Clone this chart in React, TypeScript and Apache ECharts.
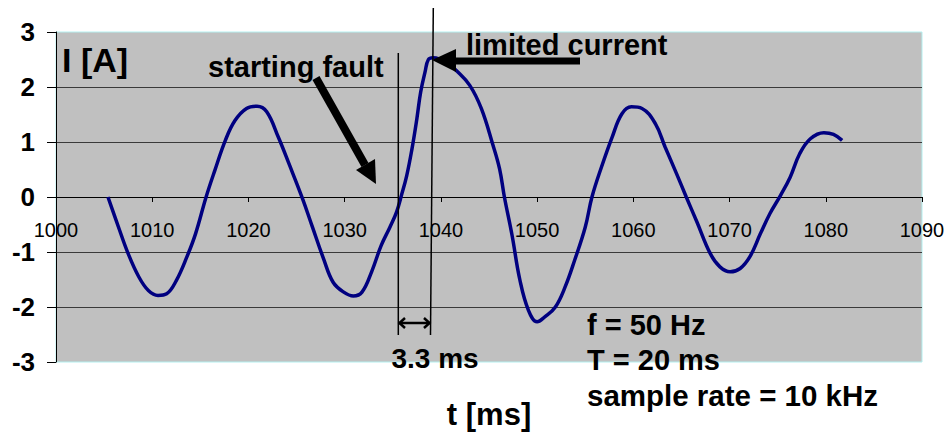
import React, { useEffect, useRef } from "react";
import * as echarts from "echarts";

const timeMs = [
  1005.4, 1006.5, 1007.5, 1008.6, 1009.6, 1010.6, 1011.5, 1012.5, 1013.6, 1014.5,
  1015.6, 1016.5, 1017.6, 1018.6, 1019.8, 1020.9, 1021.9, 1023.1, 1024.2, 1025.6,
  1026.6, 1027.8, 1028.8, 1029.9, 1030.9, 1031.8, 1032.8, 1033.8, 1034.7, 1035.4,
  1035.9, 1036.45, 1037.0, 1037.5, 1037.9, 1038.35, 1038.7, 1039.2, 1040.6, 1041.6,
  1043.0, 1044.2, 1045.4, 1046.1, 1046.6, 1047.4, 1048.2, 1049.1, 1050.0, 1050.8,
  1051.9, 1052.9, 1053.9, 1055.0, 1055.7, 1056.7, 1057.8, 1058.8, 1059.8, 1060.9,
  1062.3, 1063.3, 1064.5, 1065.5, 1066.6, 1068.0, 1069.0, 1070.05, 1071.1, 1072.1,
  1073.2, 1074.2, 1075.3, 1076.3, 1077.3, 1078.4, 1079.8, 1080.8, 1081.7,
];
const currentA = [
  0, -0.55, -1.03, -1.45, -1.7, -1.79, -1.76, -1.52, -1.09, -0.67,
  0, 0.48, 1.03, 1.39, 1.61, 1.65, 1.55, 1.09, 0.61, -0.02,
  -0.52, -1.12, -1.55, -1.73, -1.8, -1.73, -1.36, -0.88, -0.55, -0.27,
  0.03, 0.39, 0.88, 1.42, 1.91, 2.27, 2.5, 2.53, 2.45, 2.3,
  2.03, 1.61, 0.95, 0.51, 0, -0.7, -1.5, -2.06, -2.27, -2.18,
  -2.0, -1.64, -1.15, -0.55, 0, 0.55, 1.09, 1.51, 1.64, 1.61,
  1.33, 0.91, 0.42, 0, -0.45, -1.03, -1.27, -1.36, -1.3, -1.09,
  -0.67, -0.3, 0.03, 0.36, 0.79, 1.06, 1.17, 1.14, 1.03,
];

const xMin = 1000;
const xMax = 1090;
const xStep = 10;
const yMin = -3;
const yMax = 3;
const yStep = 1;

const FONT = '"Liberation Sans", Arial, sans-serif';
const GRID_TOP = 32;
const GRID_BOTTOM_Y = 362;

function txt(text: string, x: number, y: number, size: number, align = "left") {
  return {
    type: "text",
    z: 100,
    x,
    y,
    style: {
      text,
      fontFamily: FONT,
      fontWeight: "bold",
      fontSize: size,
      fill: "#000",
      align,
      verticalAlign: "middle",
    },
  };
}

function ln(x1: number, y1: number, x2: number, y2: number, w: number) {
  return {
    type: "line",
    z: 100,
    shape: { x1, y1, x2, y2 },
    style: { stroke: "#000", lineWidth: w },
  };
}

export default function App() {
  const ref = useRef<HTMLDivElement>(null);
  useEffect(() => {
    const chart = echarts.init(ref.current!, null, { renderer: "svg" });
    const data = timeMs.map((t, i) => [t, currentA[i]]);
    // place the x axis on the y = 0 line
    const zeroY = GRID_TOP + ((yMax - 0) / (yMax - yMin)) * (GRID_BOTTOM_Y - GRID_TOP);
    chart.setOption({
      animation: false,
      backgroundColor: "#fff",
      grid: {
        left: 56,
        top: GRID_TOP,
        right: 27,
        bottom: 434 - GRID_BOTTOM_Y,
        show: true,
        backgroundColor: "#c0c0c0",
        borderColor: "#b4f0f0",
        borderWidth: 1,
      },
      xAxis: {
        type: "value",
        min: xMin,
        max: xMax,
        interval: xStep,
        position: "bottom",
        offset: -(GRID_BOTTOM_Y - zeroY),
        axisLine: {
          show: true,
          onZero: false,
          lineStyle: { color: "#000", width: 1 },
        },
        axisTick: { show: true, inside: false, length: 5, lineStyle: { color: "#000" } },
        axisLabel: {
          show: true,
          showMinLabel: true,
          showMaxLabel: true,
          margin: 23,
          fontFamily: FONT,
          fontSize: 20,
          color: "#000",
          formatter: (v: number) => String(v),
        },
        splitLine: { show: false },
      },
      yAxis: {
        type: "value",
        min: yMin,
        max: yMax,
        interval: yStep,
        axisLine: { show: true, onZero: false, lineStyle: { color: "#000", width: 1 } },
        axisTick: { show: true, inside: false, length: 9, lineStyle: { color: "#000" } },
        axisLabel: {
          margin: 21,
          fontFamily: FONT,
          fontWeight: "bold",
          fontSize: 26,
          color: "#000",
        },
        splitLine: {
          show: true,
          showMinLine: false,
          showMaxLine: false,
          lineStyle: { color: "#3a3a3a", width: 1 },
        },
      },
      series: [
        {
          type: "line",
          data,
          smooth: 0.4,
          showSymbol: false,
          lineStyle: { color: "#000080", width: 3.5 },
          z: 5,
        },
      ],
      graphic: [
        txt("I [A]", 62, 60, 34),
        txt("starting fault", 208, 67, 29),
        txt("limited current", 466, 45, 29),
        txt("3.3 ms", 435, 358, 28, "center"),
        txt("t [ms]", 489, 414, 31, "center"),
        txt("f = 50 Hz", 587, 325, 29),
        txt("T = 20 ms", 587, 360, 29),
        txt("sample rate = 10 kHz", 587, 395, 29.5),
        ln(398.3, 53, 398.3, 335, 1.5),
        ln(433.3, 8, 430.5, 335, 1.5),
        ln(316, 78, 365, 165, 8),
        {
          type: "polygon",
          z: 100,
          shape: { points: [[376, 184], [375, 159], [356, 170]] },
          style: { fill: "#000" },
        },
        ln(580, 61, 452, 61, 7),
        {
          type: "polygon",
          z: 100,
          shape: { points: [[432, 60], [456, 49], [456, 72]] },
          style: { fill: "#000" },
        },
        ln(399, 323, 430, 323, 2.5),
        {
          type: "polyline",
          z: 100,
          shape: { points: [[405, 318], [399.5, 323], [405, 328]] },
          style: { stroke: "#000", lineWidth: 2.5, fill: null },
        },
        {
          type: "polyline",
          z: 100,
          shape: { points: [[424, 318], [429.5, 323], [424, 328]] },
          style: { stroke: "#000", lineWidth: 2.5, fill: null },
        },
      ],
    });
    return () => chart.dispose();
  }, []);
  return (
    <div
      ref={ref}
      style={{ position: "absolute", left: 0, top: 0, width: 949, height: 434 }}
    />
  );
}
